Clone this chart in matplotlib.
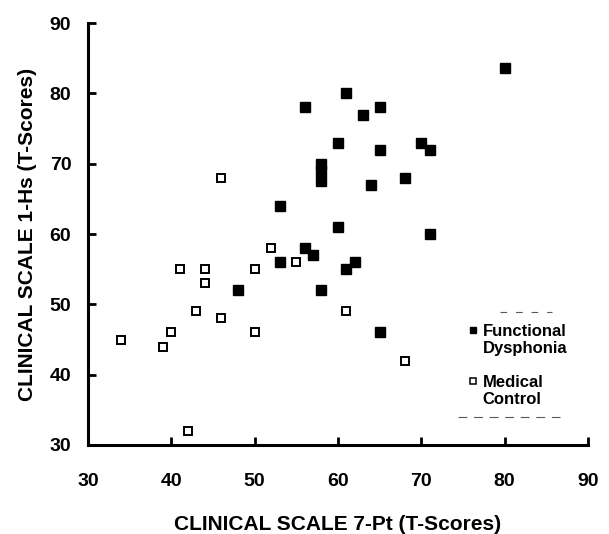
import matplotlib
matplotlib.use("Agg")
import matplotlib.pyplot as plt

plt.rcParams['font.family'] = ['Liberation Sans', 'DejaVu Sans']
plt.rcParams['font.weight'] = 'bold'

# Functional Dysphonia (filled squares)
fd_x = [80, 61, 56, 63, 65, 60, 65, 70, 71, 58, 58, 58, 68, 64, 53, 60, 71, 56, 57, 53, 62, 61, 48, 58, 65]
fd_y = [83.6, 80, 78, 77, 78, 73, 72, 73, 72, 70, 69, 67.5, 68, 67, 64, 61, 60, 58, 57, 56, 56, 55, 52, 52, 46]

# Medical Control (open squares)
mc_x = [46, 52, 55, 41, 44, 50, 44, 43, 46, 61, 40, 34, 39, 50, 68, 42]
mc_y = [68, 58, 56, 55, 55, 55, 53, 49, 48, 49, 46, 45, 44, 46, 42, 32]

xticks = [30, 40, 50, 60, 70, 80, 90]
yticks = [30, 40, 50, 60, 70, 80, 90]

fig = plt.figure(figsize=(6.09, 5.34), dpi=100)
ax = fig.add_axes([0.1445, 0.1667, 0.821, 0.790])

ax.plot(fd_x, fd_y, 's', color='black', markersize=6.5, linestyle='none')
ax.plot(mc_x, mc_y, 's', markerfacecolor='white', markeredgecolor='black',
        markeredgewidth=1.4, markersize=5.8, linestyle='none')

ax.set_xlim(30, 90)
ax.set_ylim(30, 90)
ax.set_xticks(xticks)
ax.set_yticks(yticks)
ax.tick_params(direction='in', length=6, width=2, labelsize=14)
ax.tick_params(axis='x', pad=20)
ax.tick_params(axis='y', pad=12)
for lab in ax.get_xticklabels() + ax.get_yticklabels():
    lab.set_fontweight('bold')
ax.spines['top'].set_visible(False)
ax.spines['right'].set_visible(False)
ax.spines['left'].set_linewidth(2.2)
ax.spines['bottom'].set_linewidth(2.2)

ax.set_xlabel('CLINICAL SCALE 7-Pt (T-Scores)', fontsize=15, fontweight='bold', labelpad=18)
ax.set_ylabel('CLINICAL SCALE 1-Hs (T-Scores)', fontsize=15, fontweight='bold', labelpad=9)

# legend drawn by hand (marker sits beside the first line of each label)
ax.plot([0.770], [0.2725], 's', color='black', markersize=4.5,
        transform=ax.transAxes, clip_on=False)
ax.plot([0.770], [0.151], 's', markerfacecolor='white', markeredgecolor='black',
        markeredgewidth=1.1, markersize=4.5, transform=ax.transAxes, clip_on=False)
ax.text(0.789, 0.287, 'Functional\nDysphonia', transform=ax.transAxes,
        fontsize=12, fontweight='bold', va='top', ha='left', linespacing=1.15)
ax.text(0.789, 0.166, 'Medical\nControl', transform=ax.transAxes,
        fontsize=12, fontweight='bold', va='top', ha='left', linespacing=1.15)

# faint dashed remains of the legend frame
ax.plot([0.824, 0.928], [0.315, 0.315], transform=ax.transAxes, color='0.35',
        lw=0.8, ls=(0, (6, 8)), clip_on=False)
ax.plot([0.74, 0.944], [0.066, 0.066], transform=ax.transAxes, color='0.35',
        lw=0.8, ls=(0, (8, 6)), clip_on=False)

fig.savefig('out.png', dpi=100)
